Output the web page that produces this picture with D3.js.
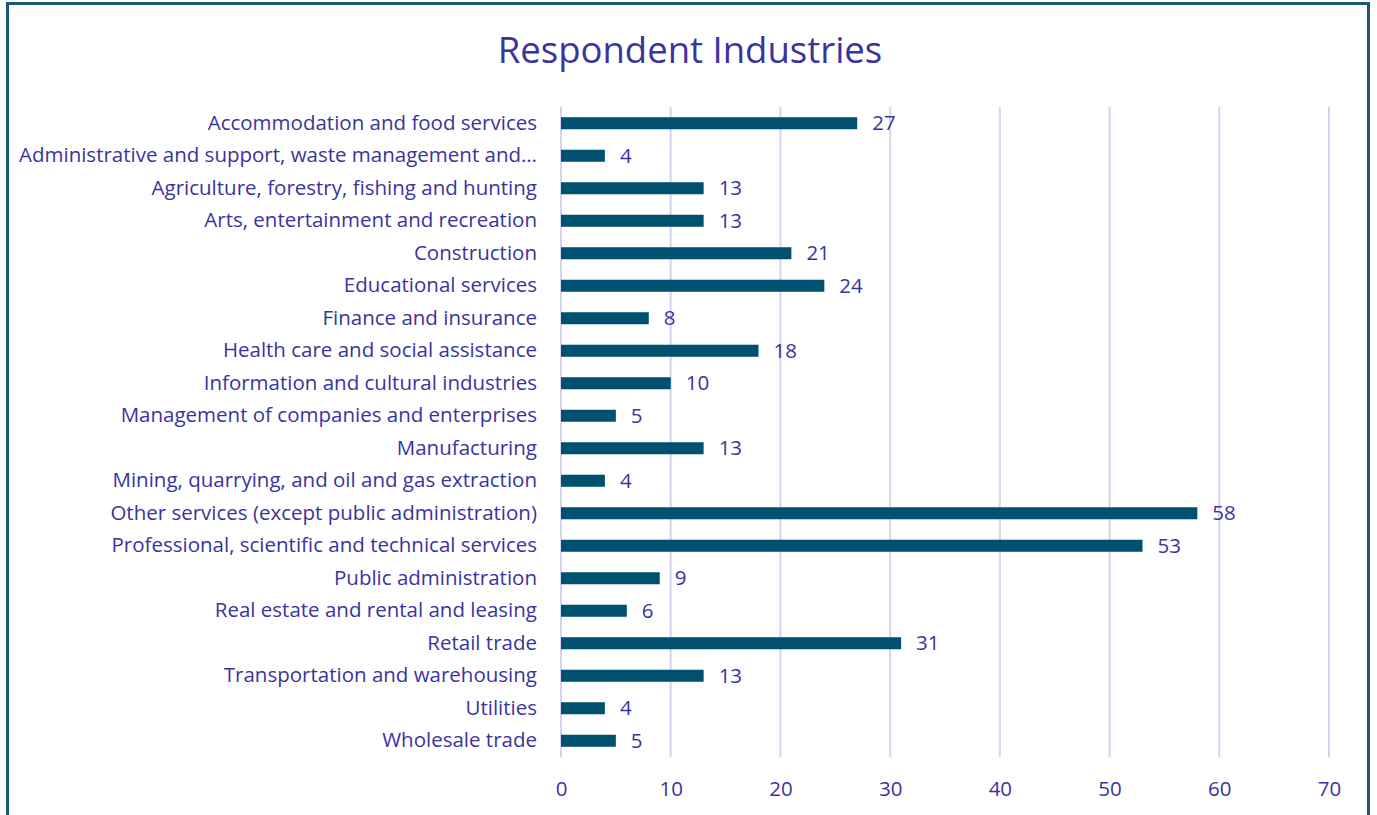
<!DOCTYPE html>
<html>
<head>
<meta charset="utf-8">
<script src="https://cdn.jsdelivr.net/npm/d3@7/dist/d3.min.js"></script>
<style>
  html, body { margin: 0; padding: 0; background: #fff; }
  svg { display: block; }
</style>
</head>
<body>
<svg id="chart" width="1377" height="815"></svg>
<script>
// Respondent counts by industry
const industries = [
  "Accommodation and food services",
  "Administrative and support, waste management and…",
  "Agriculture, forestry, fishing and hunting",
  "Arts, entertainment and recreation",
  "Construction",
  "Educational services",
  "Finance and insurance",
  "Health care and social assistance",
  "Information and cultural industries",
  "Management of companies and enterprises",
  "Manufacturing",
  "Mining, quarrying, and oil and gas extraction",
  "Other services (except public administration)",
  "Professional, scientific and technical services",
  "Public administration",
  "Real estate and rental and leasing",
  "Retail trade",
  "Transportation and warehousing",
  "Utilities",
  "Wholesale trade"
];
const respondents = [27, 4, 13, 13, 21, 24, 8, 18, 10, 5, 13, 4, 58, 53, 9, 6, 31, 13, 4, 5];
const xTicks = [0, 10, 20, 30, 40, 50, 60, 70];

const textColor = "#3b33a0";
const barColor = "#00506f";
const gridColor = "#d6d2f2";
const font = "'Open Sans', Lato, sans-serif";
const labelSize = 20.5;

const svg = d3.select("#chart");
const W = 1377, H = 815;

// outer frame
svg.append("rect")
  .attr("x", 7.5).attr("y", 3.5)
  .attr("width", 1361).attr("height", H)
  .attr("fill", "#fff")
  .attr("stroke", "#1d5878")
  .attr("stroke-width", 3);

svg.append("text")
  .attr("x", 690).attr("y", 63)
  .attr("text-anchor", "middle")
  .attr("font-family", font)
  .attr("font-size", 36.5)
  .attr("fill", textColor)
  .text("Respondent Industries");

const plot = { left: 561, right: 1329, top: 107, bottom: 757 };

const x = d3.scaleLinear().domain([0, 70]).range([plot.left, plot.right]);
const y = d3.scaleBand().domain(industries).range([plot.top, plot.bottom]).paddingInner(0.63).paddingOuter(0.315);

// vertical gridlines
svg.append("g")
  .selectAll("line")
  .data(xTicks)
  .join("line")
  .attr("x1", d => x(d)).attr("x2", d => x(d))
  .attr("y1", plot.top).attr("y2", plot.bottom)
  .attr("stroke", gridColor)
  .attr("stroke-width", 2);

// x axis labels
const xAxis = d3.axisBottom(x).tickValues(xTicks).tickSize(0).tickPadding(0);
const gx = svg.append("g").attr("transform", `translate(0,796)`).call(xAxis);
gx.select(".domain").remove();
gx.selectAll("text")
  .attr("font-family", font)
  .attr("font-size", labelSize)
  .attr("fill", textColor)
  .attr("dy", 0);

// category labels
const yAxis = d3.axisLeft(y).tickSize(0).tickPadding(24);
const gy = svg.append("g").attr("transform", `translate(${plot.left},0)`).call(yAxis);
gy.select(".domain").remove();
gy.selectAll("text")
  .attr("font-family", font)
  .attr("font-size", labelSize)
  .attr("fill", textColor);

// bars
svg.append("g")
  .selectAll("rect")
  .data(industries)
  .join("rect")
  .attr("x", x(0))
  .attr("y", d => y(d))
  .attr("width", (d, i) => x(respondents[i]) - x(0))
  .attr("height", y.bandwidth())
  .attr("fill", barColor);

// value labels
svg.append("g")
  .selectAll("text")
  .data(industries)
  .join("text")
  .attr("x", (d, i) => x(respondents[i]) + 15)
  .attr("y", d => y(d) + y.bandwidth() / 2)
  .attr("dy", "0.35em")
  .attr("font-family", font)
  .attr("font-size", labelSize)
  .attr("fill", textColor)
  .text((d, i) => respondents[i]);
</script>
</body>
</html>
